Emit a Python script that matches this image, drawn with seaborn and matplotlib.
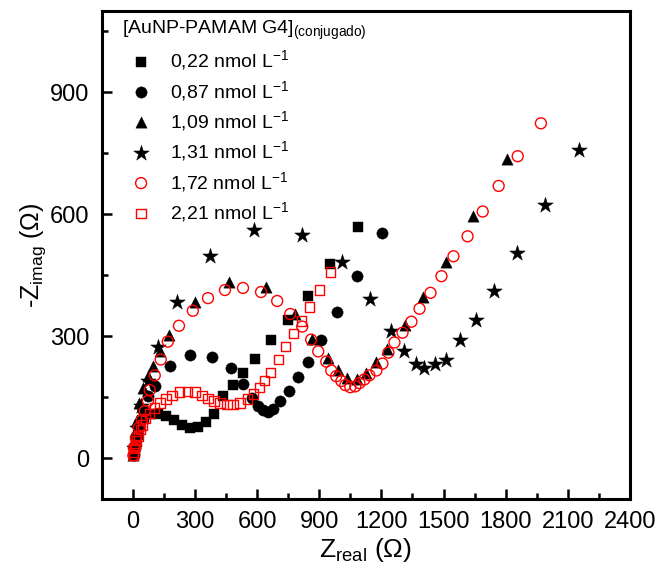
import matplotlib
matplotlib.use("Agg")
import matplotlib.pyplot as plt
import seaborn as sns
import numpy as np

# ---- data ----
labels = ["0,22", "0,87", "1,09", "1,31", "1,72", "2,21"]

x_022 = [5, 10, 15, 24, 34, 53, 82, 121, 160, 198, 237, 276, 315, 353, 392, 436, 484, 532, 590, 668, 750, 847, 953, 1089]
y_022 = [7, 21, 38, 58, 80, 99, 109, 109, 104, 94, 82, 75, 77, 90, 109, 153, 180, 209, 244, 290, 339, 400, 477, 570]

x_087 = [5, 10, 15, 29, 48, 73, 106, 179, 276, 382, 474, 532, 576, 605, 629, 653, 677, 711, 755, 798, 847, 910, 987, 1084, 1205]
y_087 = [7, 26, 55, 87, 119, 153, 177, 226, 253, 250, 221, 182, 148, 129, 119, 114, 121, 141, 165, 199, 238, 290, 361, 448, 553]

x_109 = [3, 10, 19, 29, 48, 73, 97, 131, 174, 300, 465, 644, 784, 866, 944, 992, 1036, 1084, 1127, 1176, 1229, 1316, 1403, 1510, 1640, 1805]
y_109 = [7, 50, 94, 136, 172, 202, 226, 265, 304, 385, 433, 421, 355, 294, 246, 216, 197, 194, 211, 238, 270, 329, 397, 482, 595, 736]

x_131 = [5, 19, 39, 73, 121, 213, 373, 585, 818, 1011, 1147, 1244, 1307, 1365, 1408, 1461, 1510, 1578, 1655, 1742, 1853, 1989, 2153]
y_131 = [26, 75, 129, 190, 275, 385, 497, 562, 550, 482, 392, 314, 263, 231, 221, 231, 241, 290, 341, 412, 504, 623, 758]

x_172 = [3, 5, 15, 29, 44, 58, 73, 82, 106, 135, 169, 223, 290, 363, 445, 532, 619, 697, 760, 818, 861, 895, 934, 958, 982,
         1007, 1026, 1050, 1074, 1094, 1118, 1142, 1176, 1205, 1234, 1263, 1302, 1345, 1384, 1437, 1490, 1548, 1616, 1689,
         1766, 1858, 1970]
y_172 = [7, 26, 50, 75, 94, 116, 141, 168, 204, 243, 287, 326, 363, 394, 414, 419, 409, 387, 355, 324, 292, 263, 238, 216, 202,
         190, 180, 175, 177, 185, 194, 204, 216, 233, 260, 285, 309, 336, 368, 407, 448, 497, 546, 607,
         670, 743, 824]

x_221 = [3, 5, 10, 15, 19, 29, 39, 48, 63, 82, 106, 131, 160, 189, 227, 266, 300, 334, 363, 392, 421, 455, 484, 518, 552,
         581, 610, 634, 663, 702, 736, 774, 813, 852, 900, 953]
y_221 = [7, 14, 24, 33, 43, 55, 70, 82, 97, 111, 124, 136, 146, 155, 163, 165, 163, 155, 148, 141, 136, 133, 133, 136, 146,
         158, 175, 192, 211, 243, 275, 307, 338, 372, 414, 458]

x_ticks = [0, 300, 600, 900, 1200, 1500, 1800, 2100, 2400]
y_ticks = [0, 300, 600, 900]

series = [
    (x_022, y_022, "s", "black", "black", 48),
    (x_087, y_087, "o", "black", "black", 66),
    (x_109, y_109, "^", "black", "black", 66),
    (x_131, y_131, "*", "black", "black", 140),
    (x_172, y_172, "o", "none", "red", 62),
    (x_221, y_221, "s", "none", "red", 44),
]

sns.set_style("ticks")
plt.rcParams["font.family"] = ["Liberation Sans", "DejaVu Sans"]
plt.rcParams["mathtext.fontset"] = "custom"
plt.rcParams["mathtext.rm"] = "Liberation Sans"
plt.rcParams["mathtext.it"] = "Liberation Sans:italic"
for k in ["axes.edgecolor", "xtick.color", "ytick.color", "text.color", "axes.labelcolor"]:
    plt.rcParams[k] = "black"

fig = plt.figure(figsize=(6.57, 5.74), dpi=100)
ax = fig.add_axes([0.1548, 0.1307, 0.8041, 0.850])

for (xs, ys, mk, fc, ec, s), lab in zip(series, labels):
    sns.scatterplot(x=xs, y=ys, marker=mk, s=s, facecolor=fc, edgecolor=ec,
                    linewidth=1.0 if fc == "none" else 0.3, ax=ax,
                    label=lab + r" nmol L$^{\mathregular{-1}}$")

ax.set_xlim(-150, 2400)
ax.set_ylim(-100, 1100)
ax.set_xticks(x_ticks)
ax.set_yticks(y_ticks)
ax.set_xticks(np.arange(150, 2400, 300), minor=True)
ax.set_yticks([150, 450, 750, 1050], minor=True)
ax.tick_params(axis="both", which="major", direction="in", length=7, width=1.8,
               labelsize=17, pad=9, top=False, right=False, colors="black")
ax.tick_params(axis="both", which="minor", direction="in", length=4, width=1.8,
               top=False, right=False, colors="black")
for sp in ax.spines.values():
    sp.set_linewidth(2.2)
    sp.set_color("black")
    sp.set_visible(True)

ax.set_xlabel(r"Z$_{\mathregular{real}}$ ($\Omega$)", fontsize=19, labelpad=2)
ax.set_ylabel(r"-Z$_{\mathregular{imag}}$ ($\Omega$)", fontsize=18, labelpad=1)

leg = ax.legend(loc="upper left", bbox_to_anchor=(0.012, 1.012), frameon=False,
                fontsize=14, title=r"[AuNP-PAMAM G4]$_{\mathregular{(conjugado)}}$",
                title_fontsize=14, labelspacing=0.33, handletextpad=0.5,
                borderaxespad=0.3, alignment="left")

fig.savefig("out.png", dpi=100)
